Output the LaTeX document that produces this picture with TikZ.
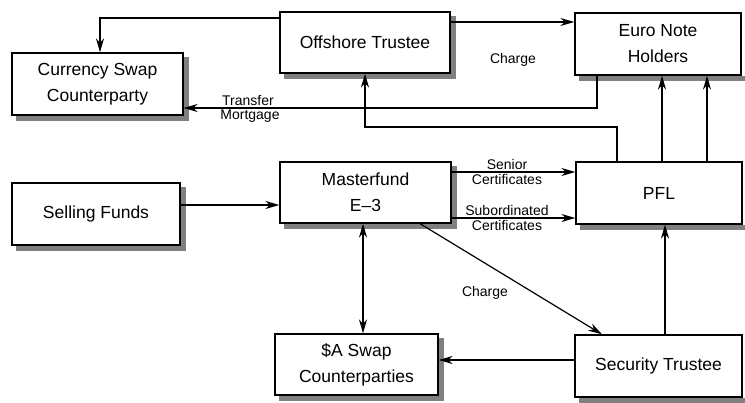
\documentclass[tikz,border=0pt]{standalone}
\usepackage{fontspec}
\setmainfont{Liberation Sans}
\usetikzlibrary{arrows.meta}

\tikzset{
  box/.style={draw, line width=1.3pt, fill=white, align=center, inner sep=0pt,
    font=\fontsize{17.5}{26}\selectfont},
  lbl/.style={font=\fontsize{14}{16}\selectfont, inner sep=1pt},
  arr/.style={line width=1.2pt, -{Stealth[length=14pt, width=8pt]}},
  dblarr/.style={line width=1.2pt, {Stealth[length=14pt, width=8pt]}-{Stealth[length=14pt, width=8pt]}},
}

\begin{document}
\begin{tikzpicture}[x=1pt, y=-1pt]
	\useasboundingbox (0,0) rectangle (745,403);
	% boxes
	\node [box, minimum width=171pt, minimum height=62pt] (cswap) at (97.5,84) {Currency Swap\\Counterparty};
	\node [box, minimum width=170pt, minimum height=61pt] (offshore) at (365,42.5) {Offshore Trustee};
	\node [box, minimum width=166pt, minimum height=62pt] (euro) at (658,44) {Euro Note\\Holders};
	\node [box, minimum width=168pt, minimum height=62pt] (selling) at (96,214) {Selling Funds};
	\node [box, minimum width=171pt, minimum height=61pt] (master) at (365.5,192.5) {Masterfund\\E--3};
	\node [box, minimum width=166pt, minimum height=62pt] (pfl) at (659,193) {PFL};
	\node [box, minimum width=163pt, minimum height=61pt] (aswap) at (356.5,364.5) {\$A Swap\\Counterparties};
	\node [box, minimum width=167pt, minimum height=62pt] (sectr) at (658.5,366) {Security Trustee};
	% shadows
	\fill [gray] ([shift={(5,0.65)}] cswap.south west) rectangle ([shift={(5,5)}] cswap.south east);
	\fill [gray] ([shift={(0.65,5)}] cswap.north east) rectangle ([shift={(5,5)}] cswap.south east);
	\fill [gray] ([shift={(5,0.65)}] offshore.south west) rectangle ([shift={(5,5)}] offshore.south east);
	\fill [gray] ([shift={(0.65,5)}] offshore.north east) rectangle ([shift={(5,5)}] offshore.south east);
	\fill [gray] ([shift={(5,0.65)}] euro.south west) rectangle ([shift={(5,5)}] euro.south east);
	\fill [gray] ([shift={(5,0.65)}] selling.south west) rectangle ([shift={(5,5)}] selling.south east);
	\fill [gray] ([shift={(0.65,5)}] selling.north east) rectangle ([shift={(5,5)}] selling.south east);
	\fill [gray] ([shift={(5,0.65)}] master.south west) rectangle ([shift={(5,5)}] master.south east);
	\fill [gray] ([shift={(0.65,5)}] master.north east) rectangle ([shift={(5,5)}] master.south east);
	\fill [gray] ([shift={(5,0.65)}] pfl.south west) rectangle ([shift={(5,5)}] pfl.south east);
	\fill [gray] ([shift={(5,0.65)}] aswap.south west) rectangle ([shift={(5,5)}] aswap.south east);
	\fill [gray] ([shift={(0.65,5)}] aswap.north east) rectangle ([shift={(5,5)}] aswap.south east);
	\fill [gray] ([shift={(5,0.65)}] sectr.south west) rectangle ([shift={(5,5)}] sectr.south east);
	% top row
	\draw [arr] (offshore.west |- 0,18) -| (100,0 |- cswap.north);
	\draw [arr] (offshore.east |- 0,22) -- (euro.west |- 0,22);
	\node [lbl] (chargetop) at (513,60) {Charge};
	\draw [arr] (597,0 |- euro.south) |- (cswap.east |- 0,108);
	\node [lbl, above] (transfer) at (248,107) {Transfer};
	\node [lbl, below] (mortgage) at (250,109) {Mortgage};
	\draw [arr] (617,0 |- pfl.north) |- (365,127) -- (365,0 |- offshore.south);
	\foreach \xpos in {662, 707}{%
		\draw [arr] (\xpos,0 |- pfl.north) -- (\xpos,0 |- euro.south);
	}
	% middle row
	\draw [arr] (selling.east |- 0,205) -- (master.west |- 0,205);
	\draw [arr] (master.east |- 0,172) -- (pfl.west |- 0,172);
	\node [lbl, above] (senior) at (507,171) {Senior};
	\node [lbl, below] (seniorcert) at (507,173) {Certificates};
	\draw [arr] (master.east |- 0,218) -- (pfl.west |- 0,218);
	\node [lbl, above] (subord) at (507,217) {Subordinated};
	\node [lbl, below] (subordcert) at (507,219) {Certificates};
	% bottom row
	\draw [dblarr] (363,0 |- master.south) -- (363,0 |- aswap.north);
	\draw [arr] (420,0 |- master.south) -- (602,0 |- sectr.north);
	\node [lbl] (chargelow) at (485,293) {Charge};
	\draw [arr] (sectr.west |- 0,360) -- (aswap.east |- 0,360);
	\draw [arr] (665,0 |- sectr.north) -- (665,0 |- pfl.south);
\end{tikzpicture}
\end{document}
